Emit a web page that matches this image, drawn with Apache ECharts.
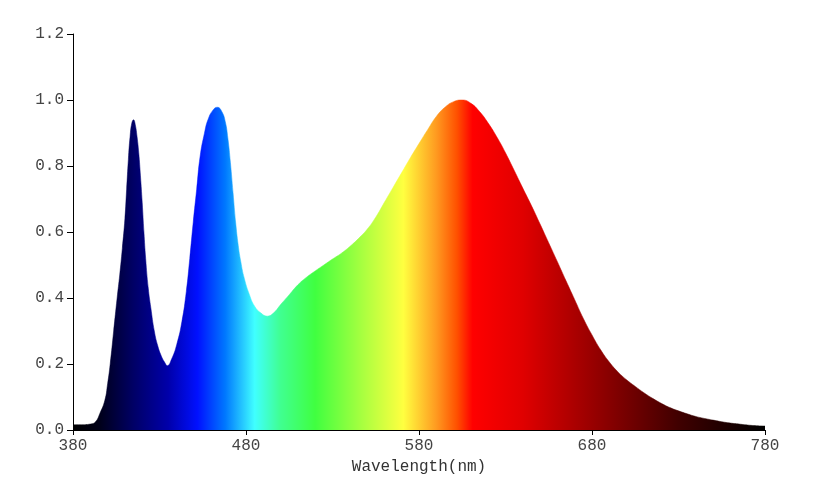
<!DOCTYPE html>
<html>
<head>
<meta charset="utf-8">
<script src="https://cdn.jsdelivr.net/npm/echarts@6/dist/echarts.min.js"></script>
<style>
html,body{margin:0;padding:0;background:#fff;}
#chart{width:827px;height:501px;}
</style>
</head>
<body>
<div id="chart"></div>
<script>
const wavelengths = [380,385,390,393,395.5,398.4,400,401.5,403.5,405.5,407,408.5,410,411,412,413,414,415,416,417,418,419,420,421,422,423.5,425,427,429,431,433,434.5,437,440,443,445.5,447.5,449.5,451.5,453.5,456,458,461,463.5,466,468,469.5,471,472.5,474,475.5,477,479,482,485,488.5,492.3,496,500,505,510,515,520,525,530,535,540,545,550,555,560,565,570,575,580,585,590,595,600,605,610,615,620,625,630,635,640,645,650,655,660,665,670,675,680,685,690,695,700,705,710,715,720,725,730,735,740,745,750,755,760,765,770,775,780];
const intensity = [0.016,0.016,0.018,0.025,0.05,0.09,0.14,0.2,0.3,0.4,0.47,0.55,0.64,0.73,0.82,0.89,0.93,0.94,0.925,0.89,0.84,0.77,0.69,0.6,0.52,0.43,0.37,0.3,0.255,0.225,0.205,0.195,0.215,0.26,0.33,0.42,0.52,0.63,0.73,0.83,0.90,0.94,0.97,0.978,0.965,0.935,0.885,0.81,0.72,0.63,0.56,0.51,0.46,0.41,0.375,0.355,0.345,0.355,0.38,0.41,0.44,0.463,0.482,0.5,0.518,0.535,0.556,0.58,0.608,0.645,0.69,0.735,0.78,0.825,0.868,0.91,0.95,0.978,0.995,1.0,0.99,0.965,0.93,0.888,0.84,0.787,0.733,0.68,0.624,0.567,0.51,0.452,0.395,0.338,0.288,0.243,0.206,0.176,0.152,0.132,0.113,0.096,0.081,0.068,0.058,0.049,0.041,0.035,0.03,0.025,0.021,0.018,0.015,0.013,0.012];
const xTicks = [380,480,580,680,780];
const yTicks = [0,0.2,0.4,0.6,0.8,1.0,1.2];
const xAxisTitle = 'Wavelength(nm)';

// spectrum colour stops: wavelength -> colour
const stopWl = [380,395,415,435,452,468,485,500,520,545,571,590,602,611,640,685,730,780];
const stopColor = ['#000000','#000018','#000066','#0000aa','#0010ff','#0078ff','#40ffff','#40ff90','#40ff40','#a0ff40','#ffff40','#ff9a20','#ff5000','#ff0000','#e00000','#900000','#400000','#000000'];

const data = wavelengths.map((w,i)=>[w,intensity[i]]);
const xMin = xTicks[0], xMax = xTicks[xTicks.length-1];
const colorStops = stopWl.map((w,i)=>({offset:(w-xMin)/(xMax-xMin), color:stopColor[i]}));
const font = '"Liberation Mono", "DejaVu Sans Mono", monospace';

const chart = echarts.init(document.getElementById('chart'));
chart.setOption({
  animation:false,
  backgroundColor:'#ffffff',
  grid:{left:73,right:62,top:34,bottom:71},
  xAxis:{
    type:'value', min:xMin, max:xMax, interval:100,
    name:xAxisTitle, nameLocation:'middle', nameGap:27,
    nameTextStyle:{fontFamily:font,fontSize:16,color:'#333'},
    axisLine:{show:true,lineStyle:{color:'#000',width:1}},
    axisTick:{show:true,length:5,lineStyle:{color:'#000'}},
    axisLabel:{fontFamily:font,fontSize:16,color:'#444',margin:8},
    splitLine:{show:false}
  },
  yAxis:{
    type:'value', min:yTicks[0], max:yTicks[yTicks.length-1], interval:0.2,
    axisLine:{show:true,lineStyle:{color:'#000',width:1}},
    axisTick:{show:true,length:6,lineStyle:{color:'#000'}},
    axisLabel:{fontFamily:font,fontSize:16,color:'#444',margin:9,formatter:v=>v.toFixed(1)},
    splitLine:{show:false}
  },
  series:[{
    type:'line',
    data:data,
    smooth:0.5,
    showSymbol:false,
    lineStyle:{width:0.5,color:new echarts.graphic.LinearGradient(0,0,1,0,colorStops)},
    areaStyle:{opacity:1,color:new echarts.graphic.LinearGradient(0,0,1,0,colorStops)}
  }]
});
</script>
</body>
</html>
